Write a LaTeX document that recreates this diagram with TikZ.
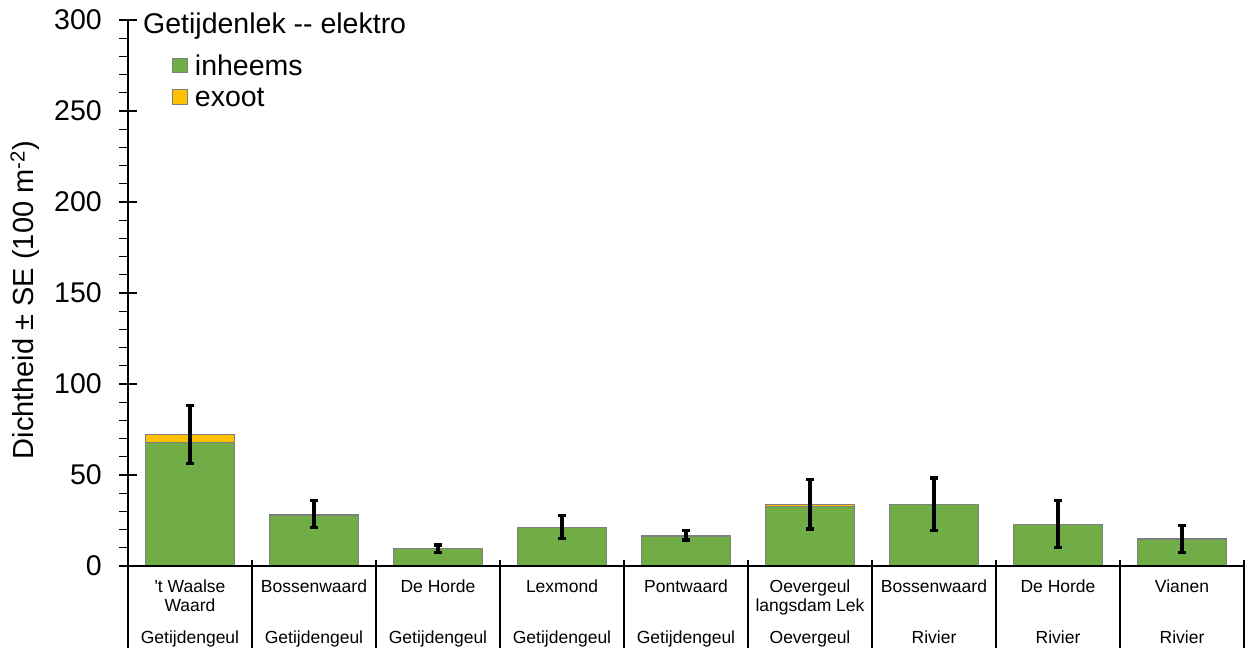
\documentclass[tikz,border=0pt]{standalone}
\usepackage{fontspec}
\newfontfamily\dhfont{Liberation Sans}
\usetikzlibrary{positioning, arrows.meta}
\definecolor{dhInheems}{HTML}{70AD47}
\definecolor{dhExoot}{HTML}{FFC000}
\definecolor{dhEdge}{HTML}{7F7F7F}
\definecolor{dhInk}{HTML}{000000}
\tikzset{
    dhBarBase/.style={
        draw=dhEdge, 
        line width=1.4pt
    },
    % Bar segments
    inheems/.style={dhBarBase, fill=dhInheems},
    exoot/.style={dhBarBase, fill=dhExoot},
    dhError/.style={{Bar[width=8pt]}-{Bar[width=8pt]}, line width=3.3pt, draw=dhInk},
    % Axes
    dhAxis/.style={draw=dhInk, line width=1.2pt},
    dhTick/.style={font=\dhfont\fontsize{28.5}{31}\selectfont, anchor=east, inner sep=0pt},
    dhCat/.style={font=\dhfont\fontsize{17.5}{19}\selectfont, align=center, anchor=north, inner sep=0pt},
    dhGroup/.style={font=\dhfont\fontsize{17.5}{19}\selectfont, anchor=base, inner sep=0pt},
    % Legend
    dhKey/.style={dhBarBase, line width=1pt, minimum size=14.5pt, inner sep=0pt},
    dhLegend/.style={font=\dhfont\fontsize{28.5}{31}\selectfont, anchor=west, inner sep=0pt}
}

\begin{document}
\begin{tikzpicture}[x=1pt, y=1pt]
    \useasboundingbox (0,0) rectangle (1252,648);

    \begin{scope}[shift={(128,82)}, y=1.82pt]
        \draw[inheems] (17.5,0) rectangle (106.5,68.0);
        \draw[exoot] (17.5,68.0) rectangle (106.5,72.1);
        \draw[inheems] (141.5,0) rectangle (230.5,27.6);
        \draw[exoot] (141.5,27.6) rectangle (230.5,28.4);
        \draw[inheems] (265.5,0) rectangle (354.5,9.5);
        \draw[inheems] (389.5,0) rectangle (478.5,21.1);
        \draw[inheems] (513.5,0) rectangle (602.5,16.3);
        \draw[exoot] (513.5,16.3) rectangle (602.5,16.9);
        \draw[inheems] (637.5,0) rectangle (726.5,32.7);
        \draw[exoot] (637.5,32.7) rectangle (726.5,33.9);
        \draw[inheems] (761.5,0) rectangle (850.5,33.9);
        \draw[inheems] (885.5,0) rectangle (974.5,22.7);
        \draw[inheems] (1009.5,0) rectangle (1098.5,14.8);

        \draw[dhError] (62,55.3) -- (62,89.0);
        \draw[dhError] (186,20.1) -- (186,36.8);
        \draw[dhError] (310,6.6) -- (310,12.5);
        \draw[dhError] (434,14.1) -- (434,28.7);
        \draw[dhError] (558,13.4) -- (558,20.5);
        \draw[dhError] (682,19.4) -- (682,48.4);
        \draw[dhError] (806,18.7) -- (806,49.3);
        \draw[dhError] (930,9.2) -- (930,36.8);
        \draw[dhError] (1054,6.6) -- (1054,23.2);

        \draw[dhAxis] (0,0) -- (0,300);
        \draw[dhAxis] (-9,0) -- (1116,0);
        \foreach \v in {10,20,...,290}
            \draw[dhAxis] (-9,\v) -- (0,\v);
        \foreach \v in {0,50,...,300} {
            \draw[dhAxis] (-9,\v) -- (9,\v);
            \node[dhTick] (tick\v) at (-26,\v) {\v};
        }

        \node[font=\dhfont\fontsize{29}{32}\selectfont, rotate=90] (ylabel) at (-103,146) {Dichtheid ± SE (100 m\textsuperscript{-2})};
    \end{scope}

    \foreach \k in {0,...,9}
        \draw[dhAxis] (128+124*\k,88) -- (128+124*\k,0);

    \node[dhCat] (c1) at (190,68.6) {'t Waalse\\Waard};
    \node[dhCat] (c2) at (314,68.6) {Bossenwaard};
    \node[dhCat] (c3) at (438,68.6) {De Horde};
    \node[dhCat] (c4) at (562,68.6) {Lexmond};
    \node[dhCat] (c5) at (686,68.6) {Pontwaard};
    \node[dhCat] (c6) at (810,68.6) {Oevergeul\\langsdam Lek};
    \node[dhCat] (c7) at (934,68.6) {Bossenwaard};
    \node[dhCat] (c8) at (1058,68.6) {De Horde};
    \node[dhCat] (c9) at (1182,68.6) {Vianen};

    \node[dhGroup] (g1) at (190,5) {Getijdengeul};
    \node[dhGroup] (g2) at (314,5) {Getijdengeul};
    \node[dhGroup] (g3) at (438,5) {Getijdengeul};
    \node[dhGroup] (g4) at (562,5) {Getijdengeul};
    \node[dhGroup] (g5) at (686,5) {Getijdengeul};
    \node[dhGroup] (g6) at (810,5) {Oevergeul};
    \node[dhGroup] (g7) at (934,5) {Rivier};
    \node[dhGroup] (g8) at (1058,5) {Rivier};
    \node[dhGroup] (g9) at (1182,5) {Rivier};

    \node[dhLegend, anchor=base west] (title) at (143,614.7) {Getijdenlek -- elektro};
    \node[dhKey, fill=dhInheems] (keyInheems) at (180,582.5) {};
    \node[dhLegend, right=7pt of keyInheems] (legInheems) {inheems};
    \node[dhKey, fill=dhExoot] (keyExoot) at (180,550.8) {};
    \node[dhLegend, right=7pt of keyExoot] (legExoot) {exoot};
\end{tikzpicture}
\end{document}
